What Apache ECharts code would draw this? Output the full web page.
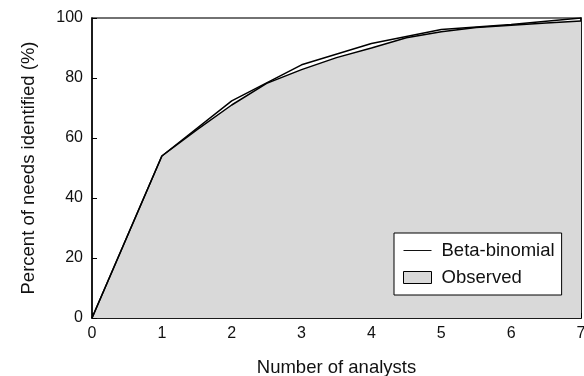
<!DOCTYPE html>
<html>
<head>
<meta charset="utf-8">
<script src="https://cdn.jsdelivr.net/npm/echarts@6/dist/echarts.min.js"></script>
<style>
  html, body { margin: 0; padding: 0; background: #fff; }
  #chart { width: 584px; height: 376px; }
</style>
</head>
<body>
<div id="chart"></div>
<script>
// model curve, read at each whole number of analysts
const analysts = [0, 1, 2, 3, 4, 5, 6, 7];
const betaBinomial = [0, 54, 72.4, 84.4, 91.5, 96.2, 97.8, 100];

const observedX = [0, 1, 1.5, 2, 2.5, 3, 3.5, 4, 4.5, 5, 5.5, 6, 6.5, 7];
const observed = [0, 54, 62.7, 71, 78.2, 82.8, 86.8, 90, 93.4, 95.4, 96.8, 97.6, 98.3, 99];

const legendNames = ['Beta-binomial', 'Observed'];

const font = 'Liberation Sans, Arial, sans-serif';
const fill = '#d9d9d9';

const toPoints = (xs, ys) => xs.map((x, i) => [x, ys[i]]);

const chart = echarts.init(document.getElementById('chart'));

chart.setOption({
  animation: false,
  grid: {
    left: 92, right: 3, top: 18, bottom: 58,
    outerBoundsMode: 'none',
    containLabel: false,
    show: true,
    borderColor: '#444',
    borderWidth: 1.5,
    backgroundColor: 'transparent'
  },
  legend: {
    orient: 'vertical',
    left: 394,
    top: 233,
    padding: [8, 7, 8, 9],
    itemGap: 8,
    itemWidth: 28,
    itemHeight: 12,
    backgroundColor: '#fff',
    borderColor: '#000',
    borderWidth: 1,
    borderRadius: 0,
    textStyle: { fontFamily: font, fontSize: 18.5, color: '#111', padding: [0, 0, 0, 5] },
    data: [
      { name: legendNames[0], icon: 'path://M0,0 H30 V1 H0 Z', itemStyle: { color: '#000' } },
      { name: legendNames[1], icon: 'rect', itemStyle: { color: fill, borderColor: '#000', borderWidth: 1 } }
    ]
  },
  xAxis: [{
    type: 'value',
    min: 0, max: 7, interval: 1,
    name: 'Number of analysts',
    nameLocation: 'middle',
    nameGap: 40,
    nameTextStyle: { fontFamily: font, fontSize: 18.5, color: '#111' },
    axisLine: { show: true, lineStyle: { color: '#000', width: 1.5 } },
    axisTick: { show: true, inside: true, length: 5, lineStyle: { color: '#000' } },
    axisLabel: { fontFamily: font, fontSize: 16, color: '#111', margin: 8 },
    splitLine: { show: false }
  }],
  yAxis: [{
    type: 'value',
    min: 0, max: 100, interval: 20,
    name: 'Percent of needs identified (%)',
    nameLocation: 'middle',
    nameGap: 54,
    nameTextStyle: { fontFamily: font, fontSize: 18.5, color: '#111' },
    axisLine: { show: true, lineStyle: { color: '#000', width: 1.5 } },
    axisTick: { show: true, inside: true, length: 5, lineStyle: { color: '#000' } },
    axisLabel: { fontFamily: font, fontSize: 16, color: '#111', margin: 9 },
    splitLine: { show: false }
  }, {
    type: 'value',
    position: 'right',
    min: 0, max: 100,
    axisLine: { show: true, lineStyle: { color: '#000', width: 1.5 } },
    axisTick: { show: false },
    axisLabel: { show: false },
    splitLine: { show: false }
  }],
  series: [
    {
      name: legendNames[1],
      type: 'line',
      data: toPoints(observedX, observed),
      showSymbol: false,
      symbol: 'none',
      lineStyle: { color: '#000', width: 1.5 },
      itemStyle: { color: fill },
      areaStyle: { color: fill, opacity: 1 },
      z: 1
    },
    {
      name: legendNames[0],
      type: 'line',
      data: toPoints(analysts, betaBinomial),
      showSymbol: false,
      symbol: 'none',
      lineStyle: { color: '#000', width: 1.5 },
      itemStyle: { color: '#000' },
      z: 3
    }
  ]
});
</script>
</body>
</html>
